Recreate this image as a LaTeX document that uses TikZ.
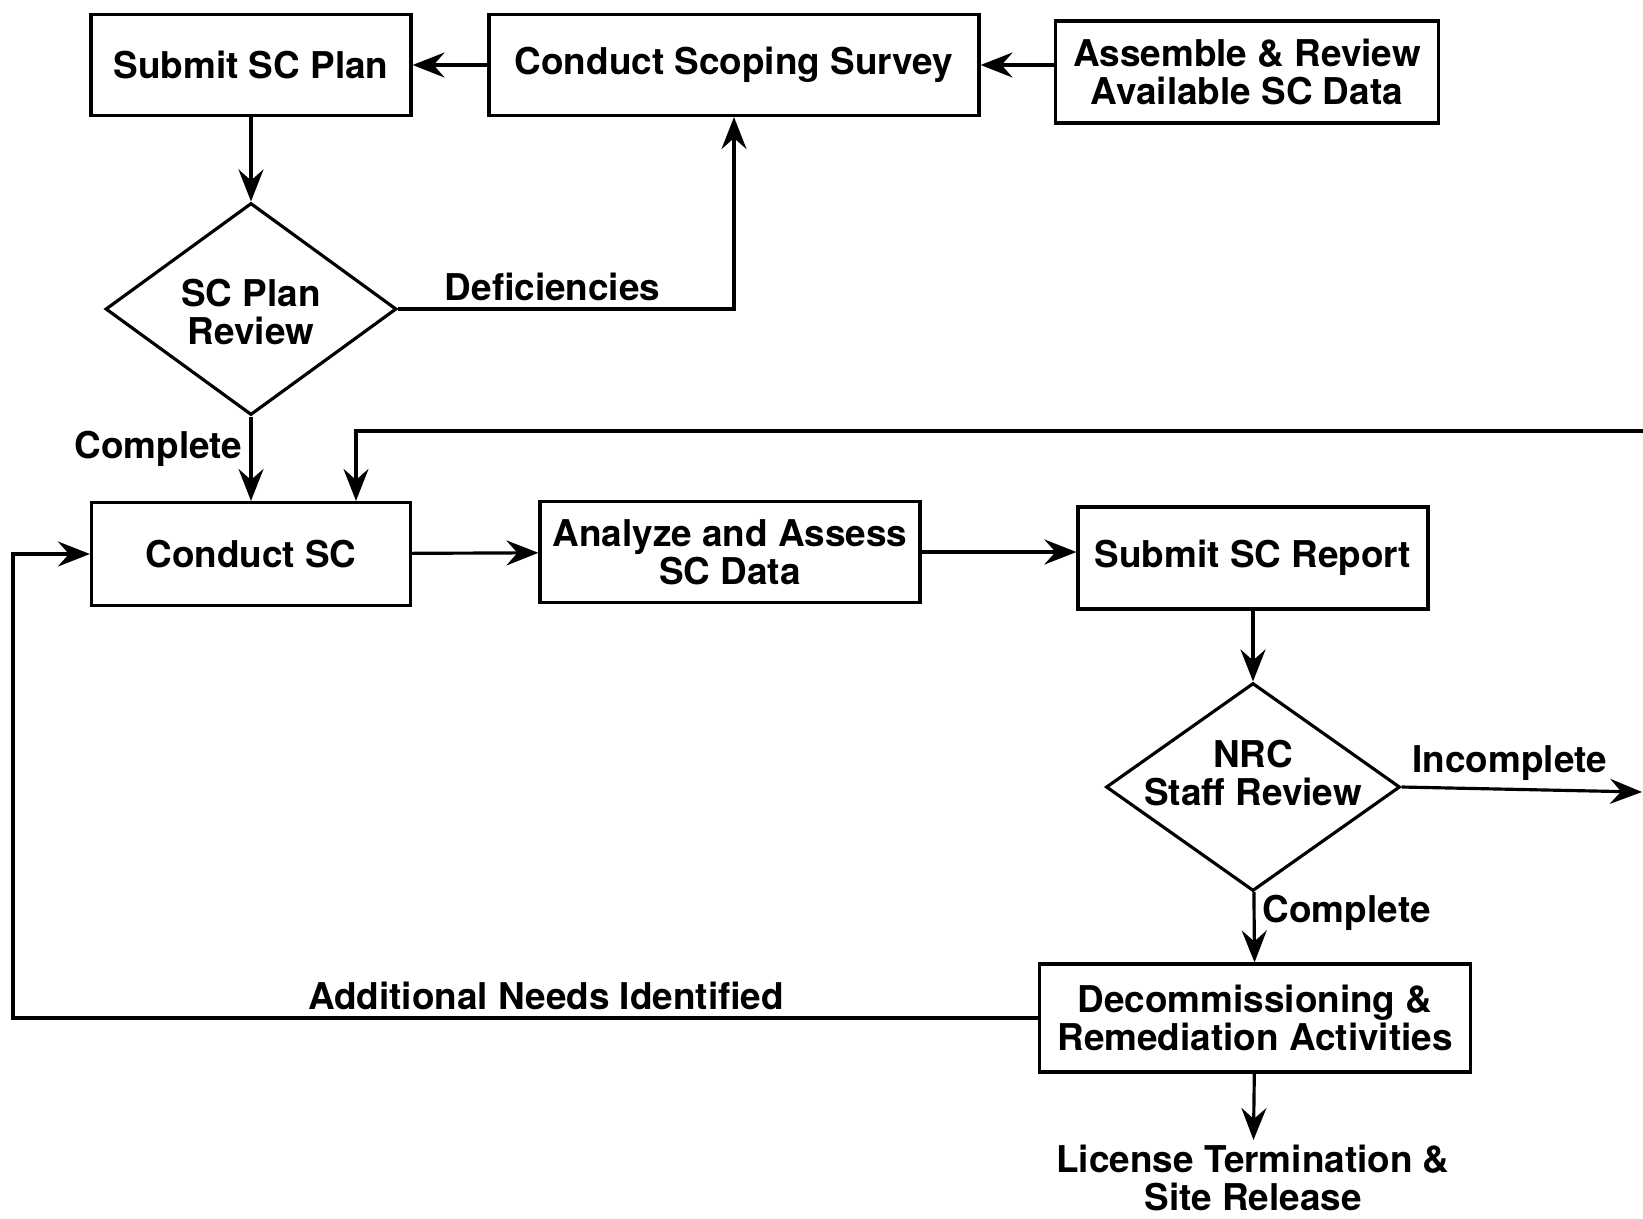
\documentclass[tikz,border=0pt]{standalone}
\usepackage{fontspec}
\setmainfont{TeX Gyre Heros}
\usetikzlibrary{arrows.meta,shapes.geometric}

\begin{document}
\begin{tikzpicture}[line width=0.9pt,
  every node/.style={font=\bfseries\fontsize{10.5}{10.8}\selectfont, align=center},
  box/.style={draw, rectangle, inner sep=1pt},
  decision/.style={draw, diamond, inner sep=0pt},
  flow/.style={-{Stealth[length=3.2mm, width=2.5mm, inset=1.1mm]}},
  lbl/.style={inner sep=2pt}]
  \useasboundingbox (0,0) rectangle (16.43,-12.18); % page margins as in the scan

  % top row
  \node[box, minimum width=3.20cm, minimum height=1.01cm] (plan) at (2.51,-0.65) {Submit SC Plan};
  \node[box, minimum width=4.90cm, minimum height=1.01cm] (scoping) at (7.34,-0.65) {Conduct Scoping Survey};
  \node[box, minimum width=3.83cm, minimum height=1.02cm] (assemble) at (12.47,-0.72) {Assemble \& Review\\Available SC Data};
  \node[decision, minimum width=2.91cm, minimum height=2.12cm] (planreview) at (2.51,-3.09) {};
  \node (planreviewtxt) at ([yshift=-0.03cm]planreview.center) {SC Plan\\Review};

  % middle row
  \node[box, minimum width=3.19cm, minimum height=1.03cm] (conductsc) at (2.51,-5.54) {Conduct SC};
  \node[box, minimum width=3.80cm, minimum height=1.01cm] (analyze) at (7.30,-5.52) {Analyze and Assess\\SC Data};
  \node[box, minimum width=3.50cm, minimum height=1.02cm] (report) at (12.53,-5.58) {Submit SC Report};
  \node[decision, minimum width=2.94cm, minimum height=2.08cm] (staffreview) at (12.53,-7.87) {};
  \node (staffreviewtxt) at ([yshift=0.14cm]staffreview.center) {NRC\\Staff Review};

  % bottom
  \node[box, minimum width=4.31cm, minimum height=1.08cm] (decomm) at (12.55,-10.18) {Decommissioning \&\\Remediation Activities};
  \node[inner sep=1pt] (release) at (12.53,-11.78) {License Termination \&\\Site Release};

  \coordinate (loopin) at (16.43,-4.31);
  \coordinate (incout) at (16.42,-7.92);
  \coordinate (leftrail) at (0.13,0);

  \draw[flow] (assemble.west |- scoping.east) -- (scoping.east);
  \draw[flow] (scoping.west) -- (plan.east);
  \draw[flow] (plan) -- (planreview);
  \draw[flow] (planreview.east) -| node[lbl, above, pos=0.23] {Deficiencies} (scoping.south);
  \draw[flow] (planreview) -- node[lbl, left, pos=0.38] {Complete} (conductsc);
  \draw[flow] (loopin) -| ([xshift=1.05cm]conductsc.north);
  \draw[flow] (conductsc) -- (analyze);
  \draw[flow] (analyze) -- (report.west |- analyze);
  \draw[flow] (report) -- (staffreview);
  \draw[flow] (staffreview.east) -- node[lbl, above, pos=0.45] {Incomplete} (incout);
  \draw[flow] (staffreview) -- node[lbl, right, pos=0.3] {Complete} (decomm);
  \draw[flow] (decomm.west) -- node[lbl, above, pos=0.48] {Additional Needs Identified} (decomm.west -| leftrail) |- (conductsc.west);
  \draw[flow] (decomm) -- (release);
\end{tikzpicture}
\end{document}
